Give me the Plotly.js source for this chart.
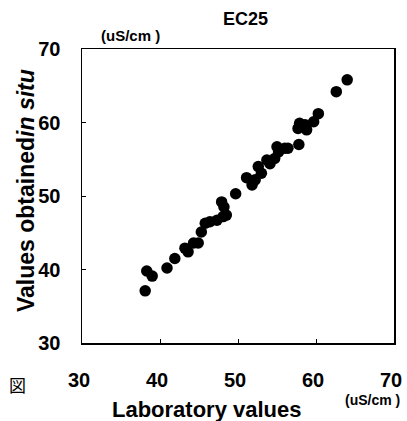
<!DOCTYPE html>
<html><head><meta charset="utf-8">
<script src="https://cdn.plot.ly/plotly-3.0.1.min.js"></script>
<style>body{margin:0;background:#fff}#c{width:407px;height:421px}</style>
</head><body><div id="c"></div>
<script>
const labValues = [38.1,38.3,39.0,40.9,41.9,43.2,43.6,44.3,44.9,45.3,45.8,46.4,47.3,48.1,48.5,47.9,48.2,49.7,
  51.1,51.8,52.2,52.6,53.0,53.7,54.1,54.7,55.0,55.2,56.0,56.4,57.8,57.9,57.7,58.8,58.6,59.7,60.3,62.6,64.0];
const insituValues = [37.1,39.8,39.1,40.2,41.5,42.9,42.4,43.6,43.6,45.1,46.3,46.5,46.7,47.2,47.4,49.2,48.5,50.3,
  52.5,51.5,52.2,54.0,53.1,54.9,54.4,55.1,56.7,56.0,56.5,56.5,57.0,59.9,59.2,59.0,59.7,60.1,61.2,64.2,65.8];
const tickVals = [30,40,50,60,70];
const chartTitle = 'EC25';
const unitText = '(uS/cm )';
const xTitle = 'Laboratory values';
const yTitle = 'Values obtained<i>in situ</i>';

const F = 'Liberation Sans, Arial, sans-serif';
const trace = {x: labValues, y: insituValues, type:'scatter', mode:'markers',
  marker:{color:'#000', size:11.5, line:{width:0}}, hoverinfo:'none', cliponaxis:false};
const axBase = {range:[30,70], tickvals:tickVals, showgrid:false, zeroline:false,
  showline:true, linecolor:'#000', linewidth:1.5, mirror:true, ticks:'inside', ticklen:4, tickcolor:'#000',
  tickfont:{family:F, size:20, color:'#000', weight:'bold'}};
const layout = {
  width:407, height:421, margin:{l:82, r:13, t:49, b:78},
  paper_bgcolor:'#fff', plot_bgcolor:'#fff', showlegend:false,
  xaxis: Object.assign({}, axBase, {ticklabelstandoff:18, ticklabelshift:-3}),
  yaxis: Object.assign({}, axBase, {ticklabelstandoff:16}),
  annotations:[
    {text:'<b>'+chartTitle+'</b>', xref:'paper', yref:'paper', x:0.525, y:1, yshift:30, showarrow:false,
     font:{family:F,size:18,color:'#000'}, xanchor:'center', yanchor:'middle'},
    {text:'<b>'+unitText+'</b>', xref:'paper', yref:'paper', x:0.155, y:1, yshift:14, showarrow:false,
     font:{family:F,size:15,color:'#000'}, xanchor:'center', yanchor:'middle'},
    {text:'<b>'+xTitle+'</b>', xref:'paper', yref:'paper', x:0.40, y:0, yshift:-66, showarrow:false,
     font:{family:F,size:22,color:'#000'}, xanchor:'center', yanchor:'middle'},
    {text:'<b>'+yTitle+'</b>', xref:'paper', yref:'paper', x:0, xshift:-56, y:0.5, yshift:5, textangle:-90, showarrow:false,
     font:{family:F,size:23,color:'#000'}, xanchor:'center', yanchor:'middle'},
    {text:'<b>'+unitText+'</b>', xref:'paper', yref:'paper', x:0.93, y:0, yshift:-57, showarrow:false,
     font:{family:F,size:14,color:'#000'}, xanchor:'center', yanchor:'middle'},
    {text:'図', xref:'paper', yref:'paper', x:0, xshift:-65, y:0, yshift:-41, showarrow:false,
     font:{family:'Noto Sans CJK JP',size:17,color:'#000'}, xanchor:'center', yanchor:'middle'}
  ]
};
Plotly.newPlot('c', [trace], layout, {displayModeBar:false, staticPlot:true});
</script></body></html>
